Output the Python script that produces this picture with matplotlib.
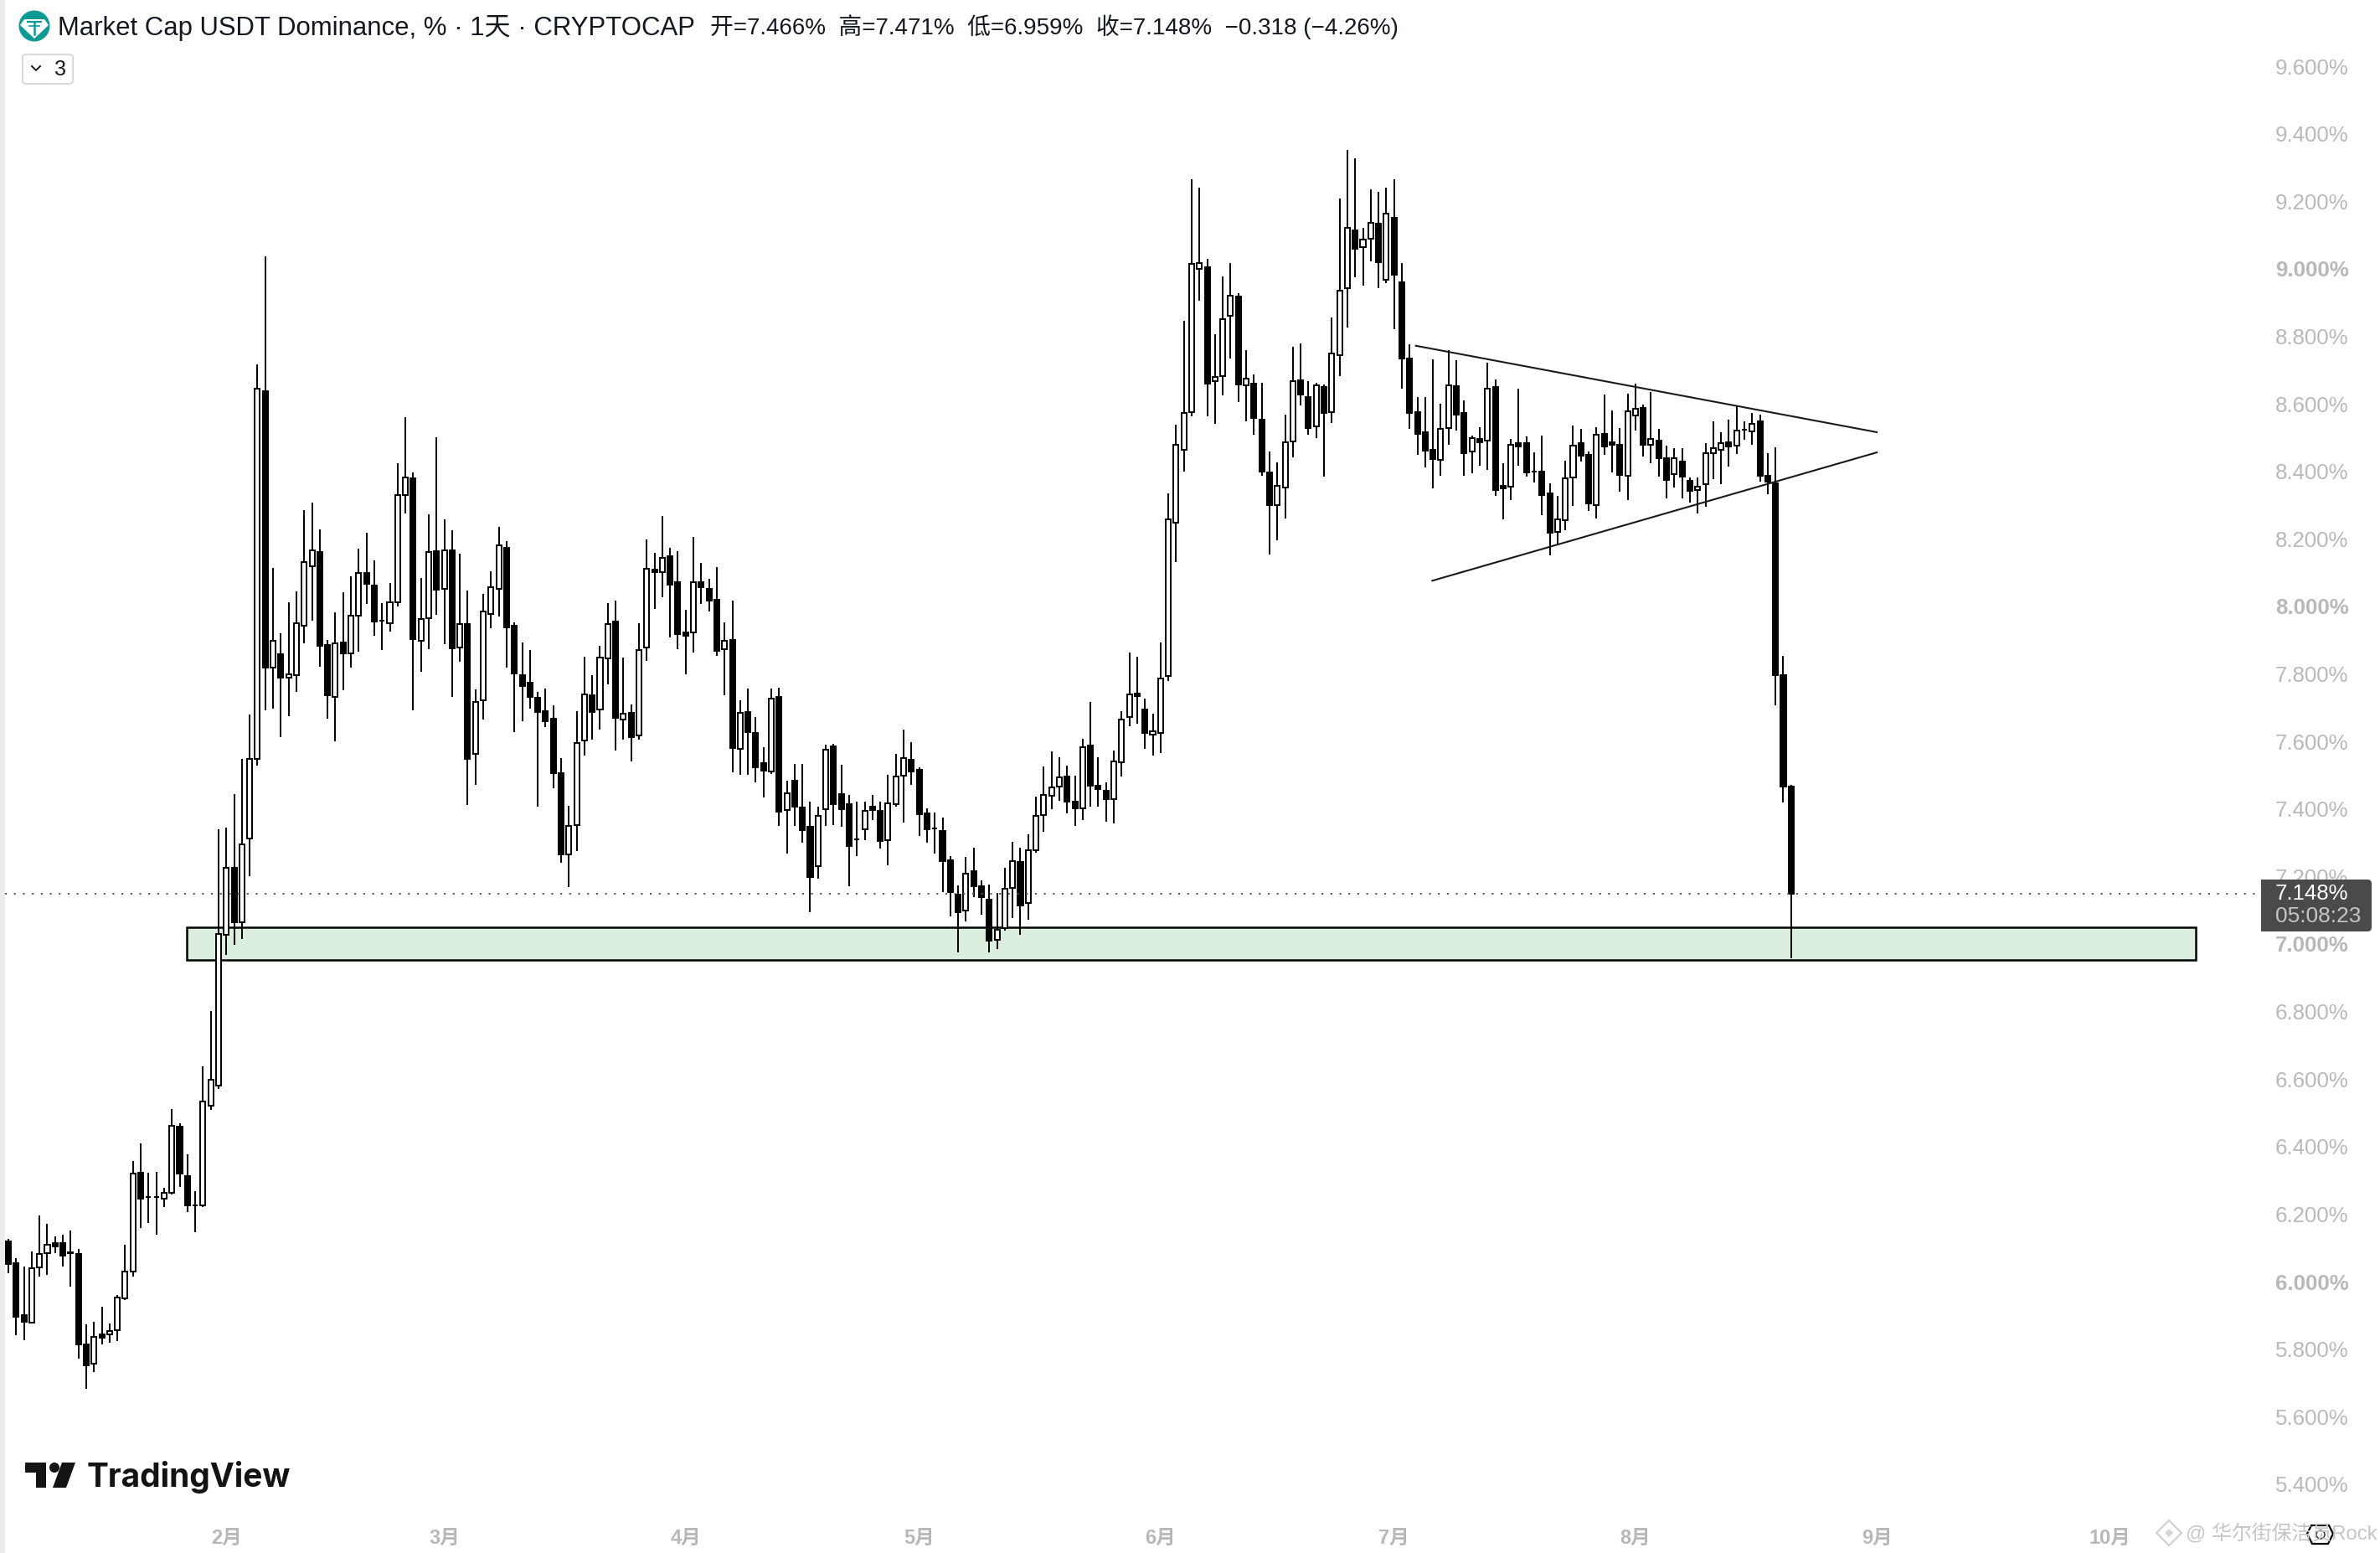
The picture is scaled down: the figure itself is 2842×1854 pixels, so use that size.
import matplotlib
matplotlib.use('Agg')
import matplotlib.pyplot as plt
import numpy as np
from matplotlib.patches import Circle, FancyBboxPatch, Polygon, Rectangle

# USDT dominance, daily candles
opens = [6.119,6.055,5.900,5.879,6.043,6.085,6.114,6.114,6.086,6.082,5.814,5.757,5.843,5.843,5.857,5.951,6.031,6.323,6.251,6.251,
         6.245,6.263,6.460,6.313,6.227,6.225,6.521,6.580,7.028,7.226,7.064,7.313,7.549,8.637,7.818,7.858,7.790,7.797,7.944,8.118,
         8.161,7.886,7.733,7.892,7.860,7.973,8.099,8.063,7.958,7.951,8.011,8.329,8.380,7.897,7.965,8.163,8.053,8.166,7.879,7.947,
         7.562,7.721,7.978,8.053,8.173,7.943,7.796,7.774,7.729,7.690,7.667,7.506,7.265,7.353,7.603,7.738,7.694,7.845,7.955,7.664,
         7.684,7.617,7.878,8.108,8.101,8.148,8.071,7.922,7.923,8.072,8.053,8.019,7.873,7.900,7.577,7.686,7.626,7.537,7.512,7.733,
         7.396,7.485,7.404,7.347,7.230,7.399,7.585,7.444,7.415,7.310,7.339,7.406,7.394,7.307,7.415,7.498,7.547,7.515,7.386,7.343,
         7.336,7.249,7.147,7.098,7.217,7.170,7.132,7.013,7.047,7.166,7.244,7.121,7.279,7.383,7.439,7.467,7.495,7.422,7.402,7.587,
         7.470,7.455,7.430,7.538,7.672,7.743,7.695,7.619,7.624,7.794,8.249,8.463,8.576,8.999,9.004,8.668,8.682,8.861,8.917,8.655,
         8.661,8.554,8.398,8.300,8.353,8.489,8.669,8.619,8.533,8.649,8.576,8.745,8.942,9.113,9.065,9.089,9.133,8.967,9.150,8.959,
         8.733,8.576,8.515,8.463,8.433,8.528,8.652,8.574,8.460,8.495,8.491,8.649,8.358,8.354,8.483,8.483,8.400,8.399,8.334,8.220,
         8.255,8.381,8.483,8.448,8.301,8.510,8.485,8.478,8.386,8.565,8.587,8.478,8.490,8.440,8.392,8.430,8.373,8.344,8.361,8.453,
         8.463,8.485,8.475,8.524,8.518,8.547,8.386,8.364,7.796,7.466]
highs = [6.127,6.070,6.045,6.089,6.195,6.171,6.133,6.139,6.151,6.097,5.874,5.881,5.926,5.876,5.960,6.109,6.357,6.409,6.323,6.325,
         6.277,6.511,6.468,6.377,6.268,6.638,6.802,7.341,7.345,7.445,7.549,7.681,8.716,9.037,8.114,7.920,8.012,8.044,8.284,8.308,
         8.227,7.901,7.982,8.041,8.088,8.170,8.218,8.136,8.009,8.069,8.423,8.561,8.397,8.083,8.272,8.501,8.257,8.225,8.155,8.046,
         7.754,8.037,8.103,8.235,8.193,7.952,7.892,7.872,7.748,7.756,7.706,7.552,7.409,7.690,7.850,7.796,7.884,8.010,8.017,7.848,
         7.709,7.950,8.198,8.159,8.269,8.173,8.163,7.990,8.206,8.130,8.082,8.116,7.952,8.017,7.722,7.756,7.672,7.583,7.756,7.760,
         7.483,7.533,7.533,7.423,7.407,7.590,7.592,7.531,7.441,7.423,7.423,7.441,7.421,7.501,7.562,7.636,7.598,7.523,7.401,7.389,
         7.374,7.260,7.173,7.257,7.285,7.188,7.176,7.152,7.225,7.303,7.286,7.324,7.436,7.526,7.571,7.554,7.529,7.498,7.608,7.717,
         7.554,7.480,7.574,7.689,7.864,7.850,7.728,7.683,7.894,8.334,8.539,8.846,9.265,9.241,9.030,8.807,8.978,9.018,8.928,8.759,
         8.686,8.663,8.460,8.427,8.568,8.770,8.779,8.666,8.663,8.658,8.855,9.207,9.352,9.327,9.120,9.235,9.227,9.241,9.266,9.018,
         8.776,8.619,8.619,8.731,8.599,8.758,8.729,8.610,8.507,8.530,8.721,8.671,8.424,8.497,8.645,8.503,8.456,8.506,8.364,8.327,
         8.431,8.535,8.526,8.460,8.530,8.627,8.580,8.528,8.630,8.659,8.597,8.634,8.526,8.475,8.468,8.468,8.383,8.381,8.483,8.547,
         8.516,8.554,8.592,8.547,8.572,8.569,8.455,8.470,7.854,7.471]
lows = [6.024,5.842,5.827,5.875,6.016,6.019,6.085,6.046,5.986,5.771,5.683,5.733,5.815,5.818,5.825,5.945,6.014,6.159,6.175,6.140,
        6.222,6.259,6.281,6.207,6.147,6.220,6.510,6.571,6.967,6.998,7.016,7.201,7.529,7.692,7.698,7.613,7.676,7.747,7.891,7.958,
        7.822,7.668,7.601,7.751,7.818,7.867,8.008,7.913,7.872,7.926,8.000,8.276,7.691,7.807,7.873,7.975,7.887,7.733,7.835,7.411,
        7.471,7.664,7.935,7.971,7.818,7.627,7.661,7.696,7.407,7.642,7.461,7.241,7.168,7.275,7.559,7.606,7.635,7.768,7.574,7.606,
        7.540,7.606,7.839,7.993,8.026,7.909,7.874,7.800,7.864,8.008,7.985,7.854,7.737,7.509,7.501,7.501,7.479,7.434,7.503,7.350,
        7.268,7.350,7.300,7.095,7.194,7.350,7.353,7.347,7.172,7.260,7.308,7.367,7.283,7.233,7.408,7.360,7.472,7.321,7.299,7.268,
        7.154,7.082,6.974,7.067,7.140,7.087,6.974,6.985,7.039,7.076,7.027,7.073,7.270,7.332,7.400,7.425,7.388,7.349,7.366,7.407,
        7.407,7.363,7.357,7.495,7.644,7.652,7.577,7.557,7.565,7.780,8.131,8.399,8.562,8.905,8.562,8.540,8.624,8.734,8.604,8.548,
        8.508,8.387,8.153,8.196,8.261,8.441,8.595,8.508,8.499,8.384,8.542,8.682,8.826,8.975,8.950,9.021,8.942,8.958,8.821,8.644,
        8.526,8.449,8.412,8.349,8.387,8.478,8.521,8.387,8.395,8.416,8.404,8.328,8.258,8.315,8.416,8.384,8.368,8.271,8.152,8.183,
        8.226,8.298,8.430,8.282,8.261,8.449,8.397,8.340,8.315,8.521,8.444,8.425,8.385,8.320,8.353,8.320,8.307,8.276,8.296,8.377,
        8.363,8.414,8.452,8.494,8.479,8.369,8.332,7.706,7.420,6.959]
closes = [6.053,5.896,5.882,6.041,6.082,6.110,6.104,6.078,6.084,5.815,5.752,5.837,5.835,5.854,5.954,6.029,6.321,6.246,6.250,6.250,
          6.262,6.462,6.321,6.225,6.226,6.534,6.597,7.029,7.226,7.064,7.295,7.549,8.645,7.819,7.899,7.789,7.800,7.951,8.132,8.166,
          7.883,7.736,7.891,7.861,7.973,8.099,8.068,7.954,7.957,8.012,8.329,8.382,7.902,7.963,8.162,8.050,8.166,7.876,7.948,7.549,
          7.716,7.984,8.057,8.180,7.937,7.801,7.763,7.733,7.686,7.661,7.505,7.266,7.349,7.596,7.740,7.688,7.848,7.947,7.670,7.682,
          7.613,7.871,8.112,8.101,8.144,8.065,7.918,7.914,8.072,8.058,8.018,7.869,7.899,7.581,7.685,7.627,7.524,7.514,7.727,7.392,
          7.447,7.408,7.338,7.198,7.380,7.576,7.415,7.400,7.291,7.309,7.395,7.398,7.305,7.417,7.497,7.551,7.512,7.385,7.341,7.342,
          7.246,7.154,7.095,7.209,7.172,7.138,7.011,7.042,7.163,7.245,7.115,7.278,7.379,7.441,7.464,7.493,7.422,7.403,7.582,7.470,
          7.458,7.428,7.542,7.666,7.740,7.735,7.624,7.631,7.787,8.257,8.478,8.574,9.015,9.017,8.661,8.680,8.852,8.920,8.657,8.675,
          8.559,8.399,8.300,8.356,8.486,8.668,8.627,8.528,8.654,8.573,8.748,8.936,9.120,9.058,9.086,9.136,9.020,9.164,8.982,8.734,
          8.574,8.512,8.462,8.437,8.526,8.654,8.569,8.454,8.499,8.487,8.645,8.345,8.350,8.479,8.474,8.397,8.399,8.330,8.219,8.258,
          8.380,8.477,8.447,8.305,8.509,8.474,8.479,8.390,8.578,8.586,8.479,8.497,8.439,8.375,8.439,8.385,8.343,8.355,8.454,8.469,
          8.483,8.474,8.521,8.523,8.540,8.387,8.370,7.796,7.466,7.148]

# 7.2 is hidden behind the price label in the reference, so it is left to the label
y_ticks = [9.6,9.4,9.2,9.0,8.8,8.6,8.4,8.2,8.0,7.8,7.6,7.4,7.2,7.0,6.8,6.6,6.4,6.2,6.0,5.8,5.6,5.4]
month_days = [28,56,87,117,148,178,209,240,270]
month_labels = ['2月','3月','4月','5月','6月','7月','8月','9月','10月']

# drawings on the chart: support zone and the triangle
zone_days = [22.9, 281.0]
zone_prices = [6.953, 7.050]
upper_line_days = [180.8, 240.0]
upper_line_prices = [8.772, 8.516]
lower_line_days = [182.9, 240.0]
lower_line_prices = [8.076, 8.456]
last_price = 7.148

W, H = 2842, 1854
GRAY = '#b8b8b8'
FONTS = ['Liberation Sans', 'Noto Sans CJK SC', 'DejaVu Sans']
plt.rcParams['font.family'] = FONTS

fig = plt.figure(figsize=(W / 100, H / 100), dpi=100, facecolor='white')
ax = fig.add_axes([0, 0, 1, 1])
ax.set_xlim(-10 / 9.296, (W - 10) / 9.296)
ax.set_ylim(7 - 727 / 403.07, 7 + 1127 / 403.07)
for s in ax.spines.values():
    s.set_visible(False)

# zone under the candles
ax.add_patch(Rectangle((zone_days[0], zone_prices[0]), zone_days[1] - zone_days[0], zone_prices[1] - zone_prices[0],
                       facecolor='#dceedd', edgecolor='black', linewidth=1.8, zorder=1))

# candles
days = np.arange(len(opens))
o = np.array(opens)
c = np.array(closes)
ax.vlines(days, lows, highs, colors='black', linewidth=1.4, zorder=2)
ax.bar(days, np.abs(c - o), bottom=np.minimum(o, c), width=0.65,
       color=['white' if a >= b else 'black' for a, b in zip(c, o)],
       edgecolor='black', linewidth=1.4, zorder=3)

# triangle lines
ax.plot(upper_line_days, upper_line_prices, color='#1a1a1a', linewidth=1.5, zorder=4)
ax.plot(lower_line_days, lower_line_prices, color='#1a1a1a', linewidth=1.5, zorder=4)

# last price line
ax.hlines(last_price, -0.4, 289.9, colors='#555555', linewidth=1.4, linestyles=(0, (1.1, 4.4)), zorder=5)

# axis labels sit inside the picture
ax.yaxis.tick_right()
ax.set_yticks(y_ticks)
ax.set_yticklabels(['%.3f%%' % v for v in y_ticks])
ax.tick_params(axis='y', length=0, pad=-90, labelsize=18.6, labelcolor=GRAY)
for lab, v in zip(ax.get_yticklabels(), y_ticks):
    if abs(v - round(v)) < 1e-6:
        lab.set_fontweight('bold')
ax.set_xticks(month_days)
ax.set_xticklabels(month_labels, fontweight='bold')
ax.tick_params(axis='x', length=0, pad=-21, labelsize=17, labelcolor=GRAY)

# everything else is placed in pixels on an overlay
ov = fig.add_axes([0, 0, 1, 1], facecolor='none')
ov.set_xlim(0, W)
ov.set_ylim(H, 0)
ov.axis('off')

ov.add_patch(Rectangle((0, 0), 6, H, facecolor='#ebebeb', edgecolor='none'))

# legend row
ov.add_patch(Circle((41, 31), 18.5, facecolor='#0e9a94', edgecolor='none'))
ov.add_patch(Polygon([(29, 23), (53, 23), (58, 30), (41, 46), (24, 30)], closed=True, facecolor='white', edgecolor='none'))
ov.plot([33, 49], [26, 26], color='#0e9a94', lw=1.6)
ov.plot([41, 41], [26, 41], color='#0e9a94', lw=1.8)
ov.plot([35, 47], [31, 31], color='#0e9a94', lw=1.2)
ov.text(69, 33, 'Market Cap USDT Dominance, % · 1天 · CRYPTOCAP', fontsize=22.4, color='#131722', va='center', ha='left')
ov.text(848, 32, '开=7.466%  高=7.471%  低=6.959%  收=7.148%  −0.318 (−4.26%)', fontsize=20, color='#131722', va='center', ha='left')

ov.add_patch(FancyBboxPatch((27, 65), 60, 35, boxstyle='round,pad=0,rounding_size=4', facecolor='white',
                            edgecolor='#d6d6d6', linewidth=1.3))
ov.plot([38, 43, 48], [79, 84, 79], color='#131722', lw=1.4)
ov.text(65, 83, '3', fontsize=18, color='#131722', va='center', ha='left')

# price label
ov.add_patch(FancyBboxPatch((2700, 1050), 132, 62, boxstyle='round,pad=0,rounding_size=5', facecolor='#4a4a4a', edgecolor='none', zorder=6))
ov.add_patch(Rectangle((2700, 1050), 20, 62, facecolor='#4a4a4a', edgecolor='none', zorder=6))
ov.text(2717, 1067, '7.148%', fontsize=18.6, color='white', va='center', ha='left', zorder=7)
ov.text(2717, 1094, '05:08:23', fontsize=19, color='#c4c4c4', va='center', ha='left', zorder=7)

# TradingView logo
ov.add_patch(Polygon([(30, 1746), (55, 1746), (55, 1776), (43, 1776), (43, 1758), (30, 1758)], closed=True, facecolor='#131313', edgecolor='none'))
ov.add_patch(Circle((65, 1752), 6, facecolor='#131313', edgecolor='none'))
ov.add_patch(Polygon([(74, 1746), (90, 1746), (79, 1776), (63, 1776)], closed=True, facecolor='#131313', edgecolor='none'))
ov.text(104, 1775, 'TradingView', fontsize=28, fontweight='bold', family=['Inter', 'DejaVu Sans'], color='#131313', va='baseline', ha='left')

# watermark
ov.add_patch(Polygon([(2590, 1815), (2605, 1830), (2590, 1845), (2575, 1830)], closed=True, facecolor='white', edgecolor='#cfcfcf', linewidth=1.5))
ov.add_patch(Polygon([(2590, 1825), (2595, 1830), (2590, 1835), (2585, 1830)], closed=True, facecolor='#d5d5d5', edgecolor='none'))
ov.text(2610, 1830, '@ 华尔街保洁员Rock', fontsize=17.2, color='#c6c6c6', va='center', ha='left')
ov.add_patch(Polygon([(2760, 1821), (2781, 1821), (2786, 1831), (2780, 1843), (2761, 1843), (2755, 1831)], closed=True, facecolor='none', edgecolor='black', linewidth=1.6))
ov.add_patch(Circle((2771, 1832), 5, facecolor='none', edgecolor='#333333', linewidth=1.1))

fig.savefig('out.png', dpi=100)
